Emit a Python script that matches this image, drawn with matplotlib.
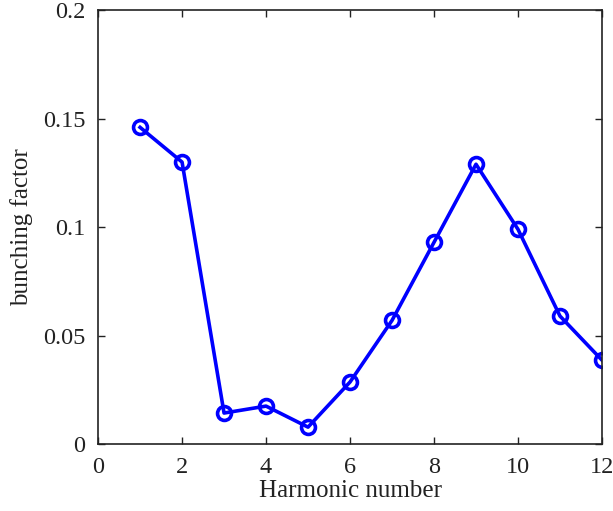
import matplotlib
matplotlib.use("Agg")
import matplotlib.pyplot as plt

# 高調波次数とバンチング係数
harmonic = [1, 2, 3, 4, 5, 6, 7, 8, 9, 10, 11, 12]
bunching = [0.146, 0.130, 0.0143, 0.0175, 0.0078, 0.0286, 0.057, 0.093, 0.129, 0.099, 0.059, 0.0387]

plt.rcParams['font.family'] = ['Liberation Serif', 'DejaVu Serif']

fig = plt.figure(figsize=(6.13, 5.11), dpi=100)
ax = fig.add_axes([0.160, 0.131, 0.822, 0.849])

ax.plot(harmonic, bunching, color="blue", linewidth=2.6,
        marker="o", markersize=10, markerfacecolor="none",
        markeredgewidth=2.6, markeredgecolor="blue")

ax.set_xlim(0, 12)
ax.set_ylim(0, 0.2)
ax.set_xticks([0, 2, 4, 6, 8, 10, 12])
ax.set_yticks([0, 0.05, 0.1, 0.15, 0.2])
ax.set_yticklabels(["0", "0.05", "0.1", "0.15", "0.2"])
ax.tick_params(direction="in", length=5, width=1, labelsize=17.5,
               top=True, right=True, colors="#222222")
ax.tick_params(axis="x", pad=9)
ax.tick_params(axis="y", pad=9)
for s in ax.spines.values():
    s.set_linewidth(1.2)
    s.set_color("#222222")

ax.set_xlabel("Harmonic number", fontsize=18, labelpad=2, color="#222222")
ax.set_ylabel("bunching factor", fontsize=18, labelpad=7, color="#222222")

fig.savefig("out.png", dpi=100)
